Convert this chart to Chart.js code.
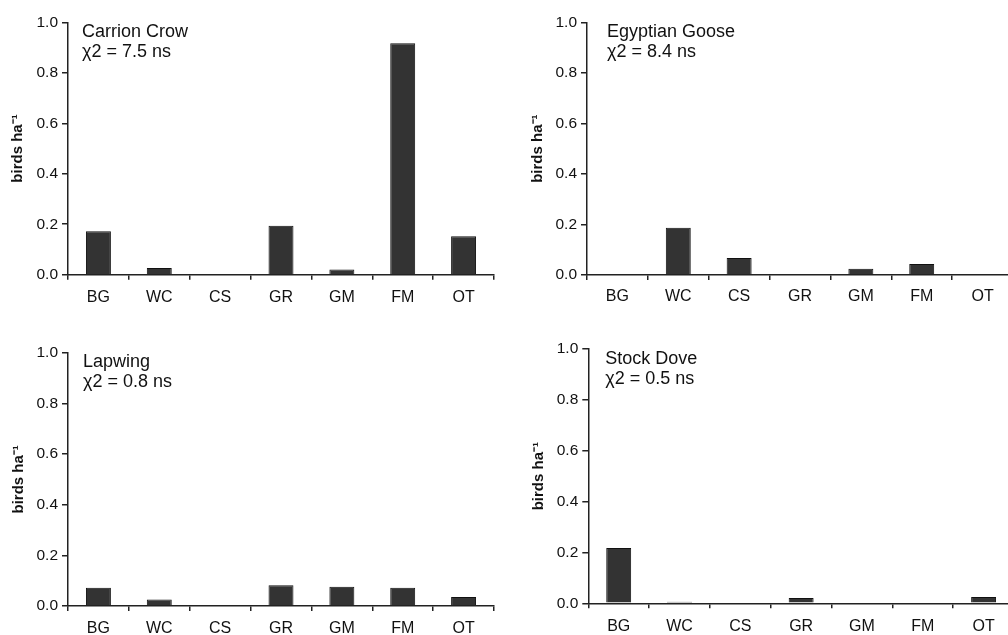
<!DOCTYPE html>
<html>
<head>
<meta charset="utf-8">
<script src="https://cdn.jsdelivr.net/npm/chart.js@4.4.1/dist/chart.umd.min.js"></script>
<style>
html, body { margin: 0; padding: 0; background: #fff; overflow: hidden; width: 1008px; height: 635px; position: relative; }
canvas { position: absolute; }
</style>
</head>
<body>
<canvas id="crow" width="500" height="320" style="left:0;top:0"></canvas>
<canvas id="goose" width="500" height="320" style="left:520px;top:0"></canvas>
<canvas id="lapwing" width="500" height="305" style="left:0;top:330px"></canvas>
<canvas id="dove" width="500" height="305" style="left:520px;top:330px"></canvas>
<script>
// habitat categories
const habitats = ['BG', 'WC', 'CS', 'GR', 'GM', 'FM', 'OT'];

// birds per hectare
const crowDensity    = [0.172, 0.027, 0, 0.194, 0.021, 0.917, 0.152];
const gooseDensity   = [0, 0.187, 0.067, 0, 0.025, 0.044, 0];
const lapwingDensity = [0.072, 0.026, 0, 0.082, 0.076, 0.072, 0.036];
const doveDensity    = [0.217, 0.006, 0, 0.021, 0, 0, 0.025];

const yTicks = [0, 0.2, 0.4, 0.6, 0.8, 1.0];
const speciesNames = ['Carrion Crow', 'Egyptian Goose', 'Lapwing', 'Stock Dove'];
const chiLabels = ['\u03c72 = 7.5 ns', '\u03c72 = 8.4 ns', '\u03c72 = 0.8 ns', '\u03c72 = 0.5 ns'];

const FONT = '"Liberation Sans", Arial, sans-serif';
const INK = '#222';

// species name + chi-square text in the top-left corner of the plot
const speciesLabel = {
    id: 'speciesLabel',
    afterDraw(chart, args, opts) {
        const { ctx, chartArea } = chart;
        ctx.save();
        ctx.font = '18px ' + FONT;
        ctx.fillStyle = '#111';
        ctx.textBaseline = 'alphabetic';
        ctx.textAlign = 'left';
        ctx.fillText(opts.name, chartArea.left + opts.dx, chartArea.top + 14.5);
        ctx.fillText(opts.chi, chartArea.left + opts.dx, chartArea.top + 34.5);
        ctx.restore();
    }
};

function makePanel(id, values, idx, box) {
    const ctx = document.getElementById(id).getContext('2d');
    return new Chart(ctx, {
        type: 'bar',
        data: {
            labels: habitats,
            datasets: [{
                data: values,
                backgroundColor: '#333333',
                borderColor: '#111111',
                borderWidth: 1,
                barPercentage: 0.41,
                categoryPercentage: 1.0
            }]
        },
        plugins: [speciesLabel],
        options: {
            responsive: false,
            animation: false,
            devicePixelRatio: 1,
            layout: { padding: { top: box.top, right: box.right, left: 0, bottom: 0 } },
            plugins: {
                legend: { display: false },
                tooltip: { enabled: false },
                speciesLabel: { name: speciesNames[idx], chi: chiLabels[idx], dx: box.dx }
            },
            scales: {
                x: {
                    offset: true,
                    grid: { offset: true, drawOnChartArea: false, drawTicks: true, tickLength: 5, color: INK, lineWidth: 1.5 },
                    border: { color: INK, width: 1.5 },
                    ticks: { color: '#111', font: { family: FONT, size: 16 }, padding: box.labelPad, maxRotation: 0 },
                    afterFit: s => { s.height = box.xHeight; }
                },
                y: {
                    min: 0,
                    max: 1,
                    afterBuildTicks: s => { s.ticks = yTicks.map(v => ({ value: v })); },
                    grid: { drawOnChartArea: false, drawTicks: true, tickLength: 6, color: INK, lineWidth: 1.5 },
                    border: { color: INK, width: 1.5 },
                    ticks: {
                        color: '#111',
                        font: { family: FONT, size: 15.5 },
                        padding: 4,
                        callback: v => Number(v).toFixed(1)
                    },
                    title: {
                        display: true,
                        text: 'birds ha\u207b\u00b9',
                        color: '#111',
                        font: { family: FONT, size: 15, weight: 'bold' },
                        padding: { top: box.titlePad, bottom: 0 }
                    },
                    afterFit: s => { s.width = box.yWidth; }
                }
            }
        }
    });
}

makePanel('crow', crowDensity, 0, { top: 22.3, right: 6, xHeight: 45.3, yWidth: 68, titlePad: 9, labelPad: 8, dx: 14 });
makePanel('goose', gooseDensity, 1, { top: 22.3, right: 7, xHeight: 45, yWidth: 67, titlePad: 8.5, labelPad: 7, dx: 20 });
makePanel('lapwing', lapwingDensity, 2, { top: 22.7, right: 6, xHeight: 29, yWidth: 68, titlePad: 9.5, labelPad: 7.5, dx: 15 });
makePanel('dove', doveDensity, 3, { top: 19, right: 6, xHeight: 31.7, yWidth: 68.3, titlePad: 9.5, labelPad: 8.5, dx: 17 });
</script>
</body>
</html>
